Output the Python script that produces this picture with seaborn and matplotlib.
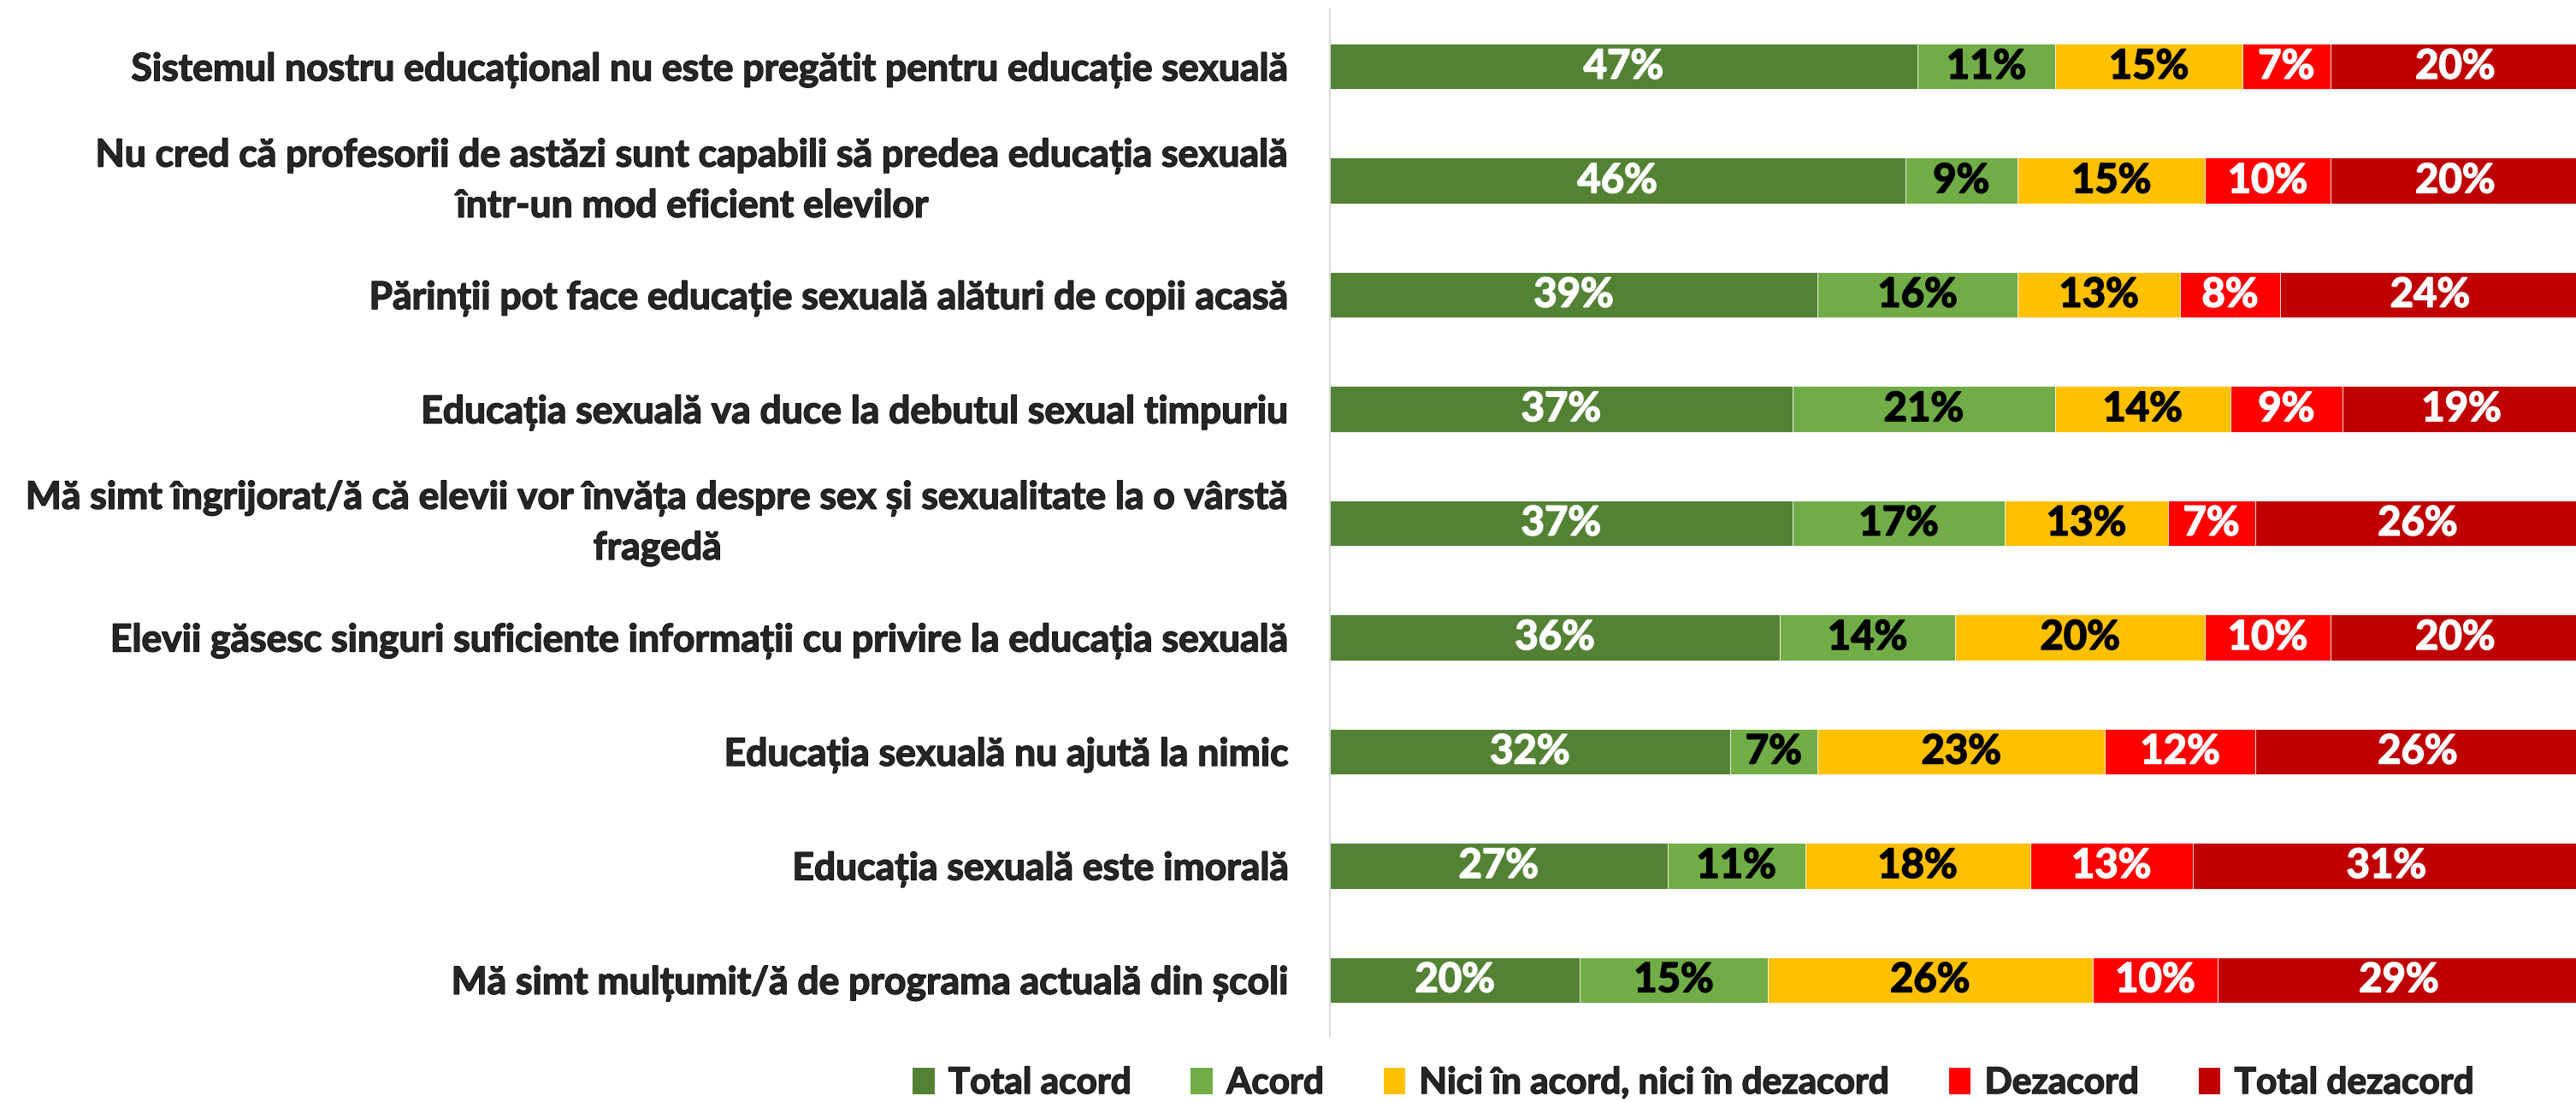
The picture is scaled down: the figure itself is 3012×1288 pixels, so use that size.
import numpy as np
import pandas as pd
import seaborn as sns
import matplotlib.pyplot as plt
import matplotlib.patheffects as pe
from matplotlib.patches import Patch

statements = [
    "Sistemul nostru educațional nu este pregătit pentru educație sexuală",
    "Nu cred că profesorii de astăzi sunt capabili să predea educația sexuală\nîntr-un mod eficient elevilor",
    "Părinții pot face educație sexuală alături de copii acasă",
    "Educația sexuală va duce la debutul sexual timpuriu",
    "Mă simt îngrijorat/ă că elevii vor învăța despre sex și sexualitate la o vârstă\nfragedă",
    "Elevii găsesc singuri suficiente informații cu privire la educația sexuală",
    "Educația sexuală nu ajută la nimic",
    "Educația sexuală este imorală",
    "Mă simt mulțumit/ă de programa actuală din școli",
]
categories = ["Total acord", "Acord", "Nici în acord, nici în dezacord",
              "Dezacord", "Total dezacord"]
total_acord = [47, 46, 39, 37, 37, 36, 32, 27, 20]
acord = [11, 9, 16, 21, 17, 14, 7, 11, 15]
neutru = [15, 15, 13, 14, 13, 20, 23, 18, 26]
dezacord = [7, 10, 8, 9, 7, 10, 12, 13, 10]
total_dezacord = [20, 20, 24, 19, 26, 20, 26, 31, 29]

colors = ["#548235", "#70AD47", "#FFC000", "#FF0000", "#C00000"]
text_colors = ["white", "black", "black", "white", "white"]

sns.set_style("white")
plt.rcParams['font.family'] = ['Lato', 'DejaVu Sans']


def heavy(c, w=1.0):
    # thicken the glyphs a little, the original uses a heavier bold
    return [pe.withStroke(linewidth=w, foreground=c)]


series = [total_acord, acord, neutru, dezacord, total_dezacord]
vals = np.array(series, dtype=float)
cum = np.cumsum(vals, axis=0)
df = pd.DataFrame(cum.T, columns=categories)
df["statement"] = statements

fig = plt.figure(figsize=(30.12, 12.88), dpi=100)
ax = fig.add_axes([1555 / 3012, 1 - 1212 / 1288, 1462 / 3012, 1201 / 1288])

# draw cumulative bars from the widest to the narrowest
for i in range(len(categories) - 1, -1, -1):
    sns.barplot(data=df, x=categories[i], y="statement", orient="h",
                color=colors[i], saturation=1, width=0.4, ax=ax,
                edgecolor="white", linewidth=0.6)

for i in range(len(categories)):
    starts = cum[i] - vals[i]
    for j in range(len(statements)):
        ax.text(starts[j] + vals[i][j] / 2, j, f"{int(vals[i][j])}%",
                ha="center", va="center", color=text_colors[i],
                fontsize=34, fontweight="bold",
                path_effects=heavy(text_colors[i], 1.2))

ax.set_xlim(0, 100)
ax.set_ylim(len(statements) - 0.5, -0.5)
ax.set_xlabel("")
ax.set_ylabel("")
ax.set_xticks([])
for s in ["top", "right", "bottom"]:
    ax.spines[s].set_visible(False)
ax.spines["left"].set_color("#D9D9D9")
ax.spines["left"].set_linewidth(1.5)
ax.tick_params(axis="y", length=0, pad=34, labelsize=32)
for lab in ax.get_yticklabels():
    lab.set_multialignment("center")
    lab.set_linespacing(1.55)
    lab.set_fontweight("bold")
    lab.set_path_effects(heavy("black", 1.0))
    if "\n" in lab.get_text():
        lab.set_va("center")

handles = [Patch(facecolor=c, edgecolor="none") for c in colors]
leg = fig.legend(handles, categories, loc="center",
                 bbox_to_anchor=(1980 / 3012, 1 - 1266 / 1288),
                 ncol=5, frameon=False, handlelength=0.6, handleheight=0.75,
                 handletextpad=0.38, columnspacing=1.65,
                 prop={"weight": "bold", "size": 30.5})
for t in leg.get_texts():
    t.set_path_effects(heavy("black", 1.0))

fig.savefig("out.png", dpi=100)
